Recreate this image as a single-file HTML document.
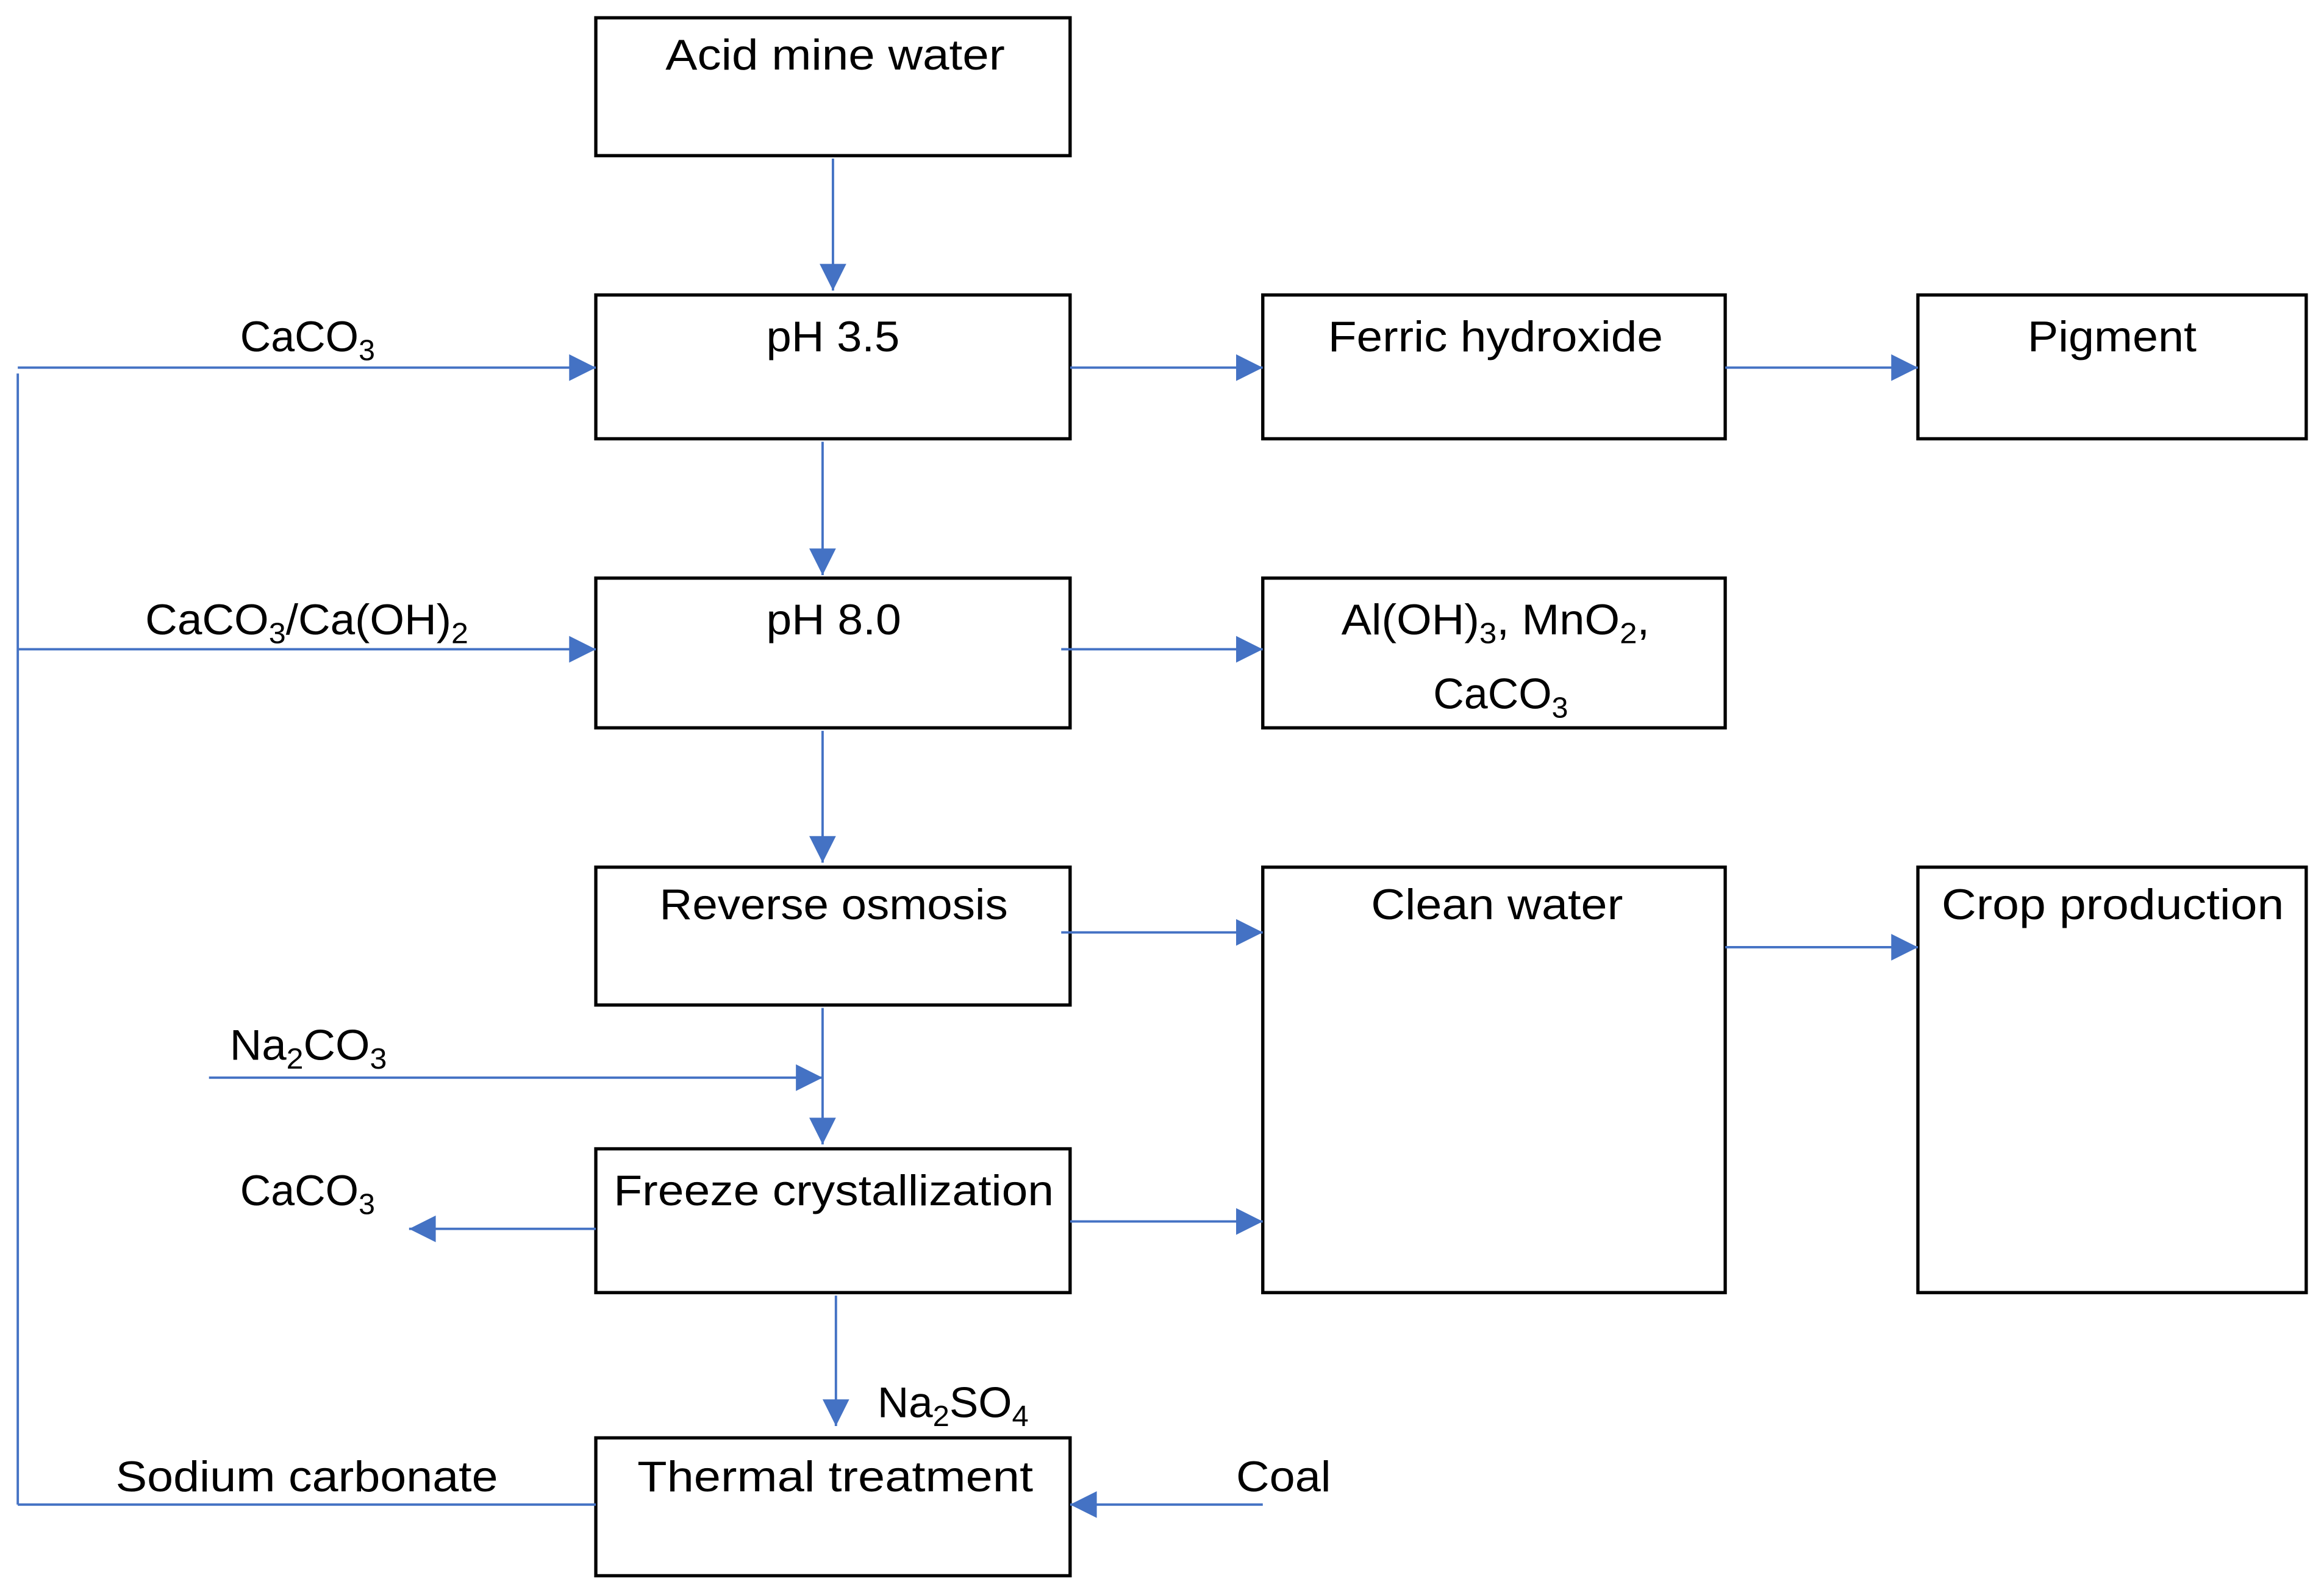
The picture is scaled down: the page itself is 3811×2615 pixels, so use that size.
<!DOCTYPE html>
<html><head><meta charset="utf-8"><style>
html,body{margin:0;padding:0;background:#fff;}
svg{display:block;}
text{font-family:"Liberation Sans",sans-serif;font-size:29px;fill:#000;}
</style></head><body>
<svg width="3811" height="2615" viewBox="0 0 1568 1076" preserveAspectRatio="none" xmlns="http://www.w3.org/2000/svg">
<defs>
<marker id="a" viewBox="0 0 10 10" refX="10" refY="5" markerWidth="20" markerHeight="18" markerUnits="userSpaceOnUse" orient="auto">
<path d="M0,0 L10,5 L0,10 z" fill="#4472C4"/></marker>
</defs>
<g fill="none" stroke="#000" stroke-width="2.2">
<rect x="402" y="12" width="320" height="93"/>
<rect x="402" y="199" width="320" height="97"/>
<rect x="852" y="199" width="312" height="97"/>
<rect x="1294" y="199" width="262" height="97"/>
<rect x="402" y="390" width="320" height="101"/>
<rect x="852" y="390" width="312" height="101"/>
<rect x="402" y="585" width="320" height="93"/>
<rect x="852" y="585" width="312" height="287"/>
<rect x="1294" y="585" width="262" height="287"/>
<rect x="402" y="775" width="320" height="97"/>
<rect x="402" y="970" width="320" height="93"/>
</g>
<g fill="none" stroke="#4472C4" stroke-width="1.6">
<line x1="562" y1="107" x2="562" y2="196" marker-end="url(#a)"/>
<line x1="12" y1="248" x2="402" y2="248" marker-end="url(#a)"/>
<line x1="12" y1="252" x2="12" y2="1015"/>
<line x1="12" y1="438" x2="402" y2="438" marker-end="url(#a)"/>
<line x1="555" y1="298" x2="555" y2="388" marker-end="url(#a)"/>
<line x1="722" y1="248" x2="852" y2="248" marker-end="url(#a)"/>
<line x1="1164" y1="248" x2="1294" y2="248" marker-end="url(#a)"/>
<line x1="716" y1="438" x2="852" y2="438" marker-end="url(#a)"/>
<line x1="555" y1="493" x2="555" y2="582" marker-end="url(#a)"/>
<line x1="716" y1="629" x2="852" y2="629" marker-end="url(#a)"/>
<line x1="1164" y1="639" x2="1294" y2="639" marker-end="url(#a)"/>
<line x1="555" y1="680" x2="555" y2="772" marker-end="url(#a)"/>
<line x1="141" y1="727" x2="555" y2="727" marker-end="url(#a)"/>
<line x1="402" y1="829" x2="276" y2="829" marker-end="url(#a)"/>
<line x1="722" y1="824" x2="852" y2="824" marker-end="url(#a)"/>
<line x1="564" y1="874" x2="564" y2="962" marker-end="url(#a)"/>
<line x1="402" y1="1015" x2="12" y2="1015"/>
<line x1="852" y1="1015" x2="722" y2="1015" marker-end="url(#a)"/>
</g>
<text x="449" y="47" textLength="229" lengthAdjust="spacingAndGlyphs">Acid mine water</text>
<text x="517" y="237" textLength="90" lengthAdjust="spacingAndGlyphs">pH 3.5</text>
<text x="896" y="237" textLength="226" lengthAdjust="spacingAndGlyphs">Ferric hydroxide</text>
<text x="1368" y="237" textLength="114" lengthAdjust="spacingAndGlyphs">Pigment</text>
<text x="162" y="237" textLength="91" lengthAdjust="spacingAndGlyphs">CaCO<tspan font-size="20" dy="6">3</tspan></text>
<text x="98" y="428" textLength="218" lengthAdjust="spacingAndGlyphs">CaCO<tspan font-size="20" dy="6">3</tspan><tspan dy="-6">/Ca(OH)</tspan><tspan font-size="20" dy="6">2</tspan></text>
<text x="517" y="428" textLength="91" lengthAdjust="spacingAndGlyphs">pH 8.0</text>
<text x="905" y="428" textLength="208" lengthAdjust="spacingAndGlyphs">Al(OH)<tspan font-size="20" dy="6">3</tspan><tspan dy="-6">, MnO</tspan><tspan font-size="20" dy="6">2</tspan><tspan dy="-6">,</tspan></text>
<text x="967" y="478" textLength="91" lengthAdjust="spacingAndGlyphs">CaCO<tspan font-size="20" dy="6">3</tspan></text>
<text x="445" y="620" textLength="235" lengthAdjust="spacingAndGlyphs">Reverse osmosis</text>
<text x="925" y="620" textLength="170" lengthAdjust="spacingAndGlyphs">Clean water</text>
<text x="1310" y="620" textLength="231" lengthAdjust="spacingAndGlyphs">Crop production</text>
<text x="155" y="715" textLength="106" lengthAdjust="spacingAndGlyphs">Na<tspan font-size="20" dy="6">2</tspan><tspan dy="-6">CO</tspan><tspan font-size="20" dy="6">3</tspan></text>
<text x="162" y="813" textLength="91" lengthAdjust="spacingAndGlyphs">CaCO<tspan font-size="20" dy="6">3</tspan></text>
<text x="414" y="813" textLength="297" lengthAdjust="spacingAndGlyphs">Freeze crystallization</text>
<text x="592" y="956" textLength="102" lengthAdjust="spacingAndGlyphs">Na<tspan font-size="20" dy="6">2</tspan><tspan dy="-6">SO</tspan><tspan font-size="20" dy="6">4</tspan></text>
<text x="78" y="1006" textLength="258" lengthAdjust="spacingAndGlyphs">Sodium carbonate</text>
<text x="430" y="1006" textLength="267" lengthAdjust="spacingAndGlyphs">Thermal treatment</text>
<text x="834" y="1006" textLength="64" lengthAdjust="spacingAndGlyphs">Coal</text>
</svg>
</body></html>
